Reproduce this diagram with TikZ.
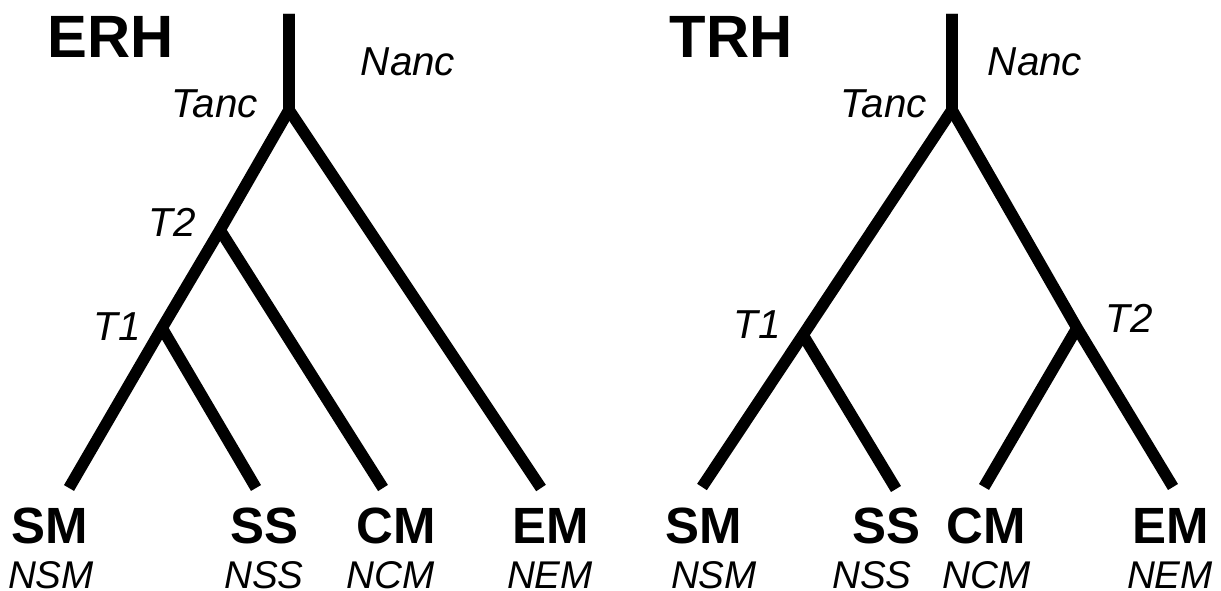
\documentclass[tikz,border=0pt]{standalone}
\usepackage{fontspec}
\setmainfont{Liberation Sans}
\usetikzlibrary{calc}
\tikzstyle{branch} = [draw, line width=6.6pt, line join=miter]
\tikzstyle{model} = [font=\fontsize{34}{40}\selectfont\bfseries, anchor=base, inner sep=0pt]
\tikzstyle{taxon} = [font=\fontsize{29}{34}\selectfont\bfseries, anchor=base, inner sep=0pt]
\tikzstyle{param} = [font=\fontsize{23}{28}\selectfont\itshape, anchor=base, inner sep=0pt]
\tikzstyle{size} = [font=\fontsize{22}{26}\selectfont\itshape, anchor=base, inner sep=0pt]

\begin{document}
\begin{tikzpicture}[x=0.02cm, y=-0.02cm]
    \useasboundingbox (0,0) rectangle (1221,591);

    % ERH: branch points and leaf ends
    \foreach \x/ \y/ \name in {289/14/eroot, 289/110/etanc, 220/230/et2, 162/328/et1,
        69/488/esm, 256/488/ess, 383/488/ecm, 541/488/eem}
        \coordinate (\name) at (\x,\y);

    \path[branch] (eroot) -- (etanc) -- (et2) -- (et1) -- (esm);
    \path[branch] (eroot) -- (etanc) -- (eem);
    \foreach \source/ \dest in {et2/ecm, et1/ess}
        \path[branch] (\source) -- (\dest);

    \node[model] (erh) at (111,58) {ERH};
    \node[param] (enanc) at (408,76) {Nanc};
    \node[param] (etanclab) at (215,118) {Tanc};
    \node[param] (et2lab) at (172,237) {T2};
    \node[param] (et1lab) at (117,340) {T1};

    \foreach \x/ \name/ \tax in {50/esmlab/SM, 264/esslab/SS, 396/ecmlab/CM, 551/eemlab/EM}
        \node[taxon] (\name) at (\x,543) {\tax};
    \foreach \x/ \name/ \tax in {51/ensm/NSM, 264/enss/NSS, 391/encm/NCM, 550/enem/NEM}
        \node[size] (\name) at (\x,588) {\tax};

    % TRH: branch points and leaf ends
    \foreach \x/ \y/ \name in {952/14/troot, 952/110/ttanc, 803/335/tt1, 1077/328/tt2,
        702/487/tsm, 896/489/tss, 984/487/tcm, 1173/487/tem}
        \coordinate (\name) at (\x,\y);

    \path[branch] (troot) -- (ttanc) -- (tt1) -- (tsm);
    \path[branch] (troot) -- (ttanc) -- (tt2) -- (tem);
    \foreach \source/ \dest in {tt1/tss, tt2/tcm}
        \path[branch] (\source) -- (\dest);

    \node[model] (trh) at (731,58) {TRH};
    \node[param] (tnanc) at (1035,76) {Nanc};
    \node[param] (ttanclab) at (884,118) {Tanc};
    \node[param] (tt1lab) at (757,338) {T1};
    \node[param] (tt2lab) at (1129,333) {T2};

    \foreach \x/ \name/ \tax in {704/tsmlab/SM, 886/tsslab/SS, 986/tcmlab/CM, 1171/temlab/EM}
        \node[taxon] (\name) at (\x,543) {\tax};
    \foreach \x/ \name/ \tax in {714/tnsm/NSM, 872/tnss/NSS, 987/tncm/NCM, 1170/tnem/NEM}
        \node[size] (\name) at (\x,588) {\tax};
\end{tikzpicture}
\end{document}
